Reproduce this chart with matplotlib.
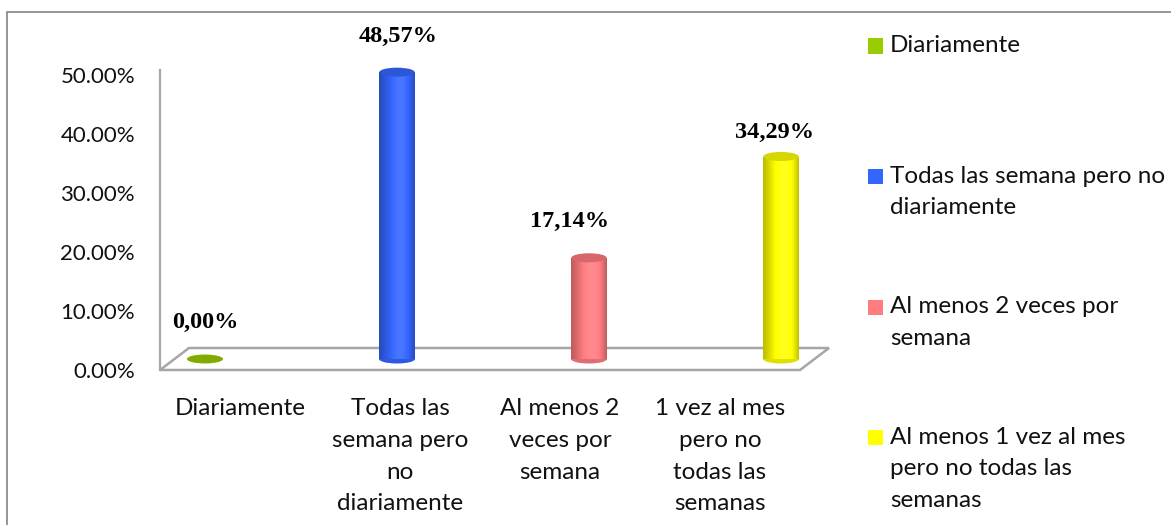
import matplotlib.pyplot as plt
import matplotlib.colors as mcolors
from matplotlib.patches import Ellipse, Polygon, Rectangle
import numpy as np

# Data
categories = ["Diariamente",
              "Todas las\nsemana pero\nno\ndiariamente",
              "Al menos 2\nveces por\nsemana",
              "1 vez al mes\npero no\ntodas las\nsemanas"]
legend_labels = ["Diariamente",
                 "Todas las semana pero no\ndiariamente",
                 "Al menos 2 veces por\nsemana",
                 "Al menos 1 vez al mes\npero no todas las\nsemanas"]
values = [0.00, 48.57, 17.14, 34.29]
colors = ["#99CC00", "#3366FF", "#FF7C80", "#FFFF00"]
yticks = [0, 10, 20, 30, 40, 50]

# data label nudges (pixels, relative to top of each cylinder)
label_offsets = [(0, 37), (1, 36), (-20, 36), (-6, 24)]

W, H = 1171, 525
FONT = "Lato"
GRAY = "#A6A6A6"
TXT = "#111111"

fig = plt.figure(figsize=(W / 100, H / 100), dpi=100)


def box(x0, y0, x1, y1):
    # pixel box (origin top-left) -> figure rect
    return [x0 / W, 1 - y1 / H, (x1 - x0) / W, (y1 - y0) / H]


def shade(color, k):
    rgb = np.array(mcolors.to_rgb(color))
    if k <= 1:
        return tuple(rgb * k)
    return tuple(rgb + (1 - rgb) * (k - 1))


# outer chart border
fig.patches.append(Rectangle((7 / W, -0.1), 1.2, 1 - 12 / H + 0.1,
                             transform=fig.transFigure, fill=False,
                             edgecolor="#8C8C8C", lw=1.3))

# -------------------------------
# back axis + floor
# -------------------------------
ytop = 50.8
ax = fig.add_axes(box(160, 70, 800, 370))
ax.set_xlim(-0.5, 3.5)
ax.set_ylim(0, ytop)
ax.patch.set_visible(False)
for s in ["top", "right", "bottom"]:
    ax.spines[s].set_visible(False)
ax.spines["left"].set_color(GRAY)
ax.spines["left"].set_linewidth(1.6)

ax.set_yticks(yticks)
ax.set_yticklabels([f"{t:.2f}%" for t in yticks], fontfamily=FONT, fontsize=16, color=TXT)
ax.set_xticks(range(len(categories)))
ax.set_xticklabels(categories, fontfamily=FONT, fontsize=17.5, color=TXT, linespacing=1.64, va="top")
ax.tick_params(axis="y", length=0, pad=18)
ax.tick_params(axis="x", length=0, pad=20)

px_x = 160.0                       # pixels per category on the floor
px_y = (370 - 70) / ytop           # pixels per percent
dx, dy = 29 / px_x, 22 / px_y
floor = Polygon([(-0.5, 0), (3.5, 0), (3.5 + dx, dy), (-0.5 + dx, dy)],
                closed=True, facecolor="white", edgecolor=GRAY, lw=1.8,
                clip_on=False, zorder=1)
ax.add_patch(floor)

# -------------------------------
# cylinders (own axes for the depth plane)
# -------------------------------
bar0, step, base = 205, 192.0, 359
ax3 = fig.add_axes(box(160, base - ytop * px_y, 830, base))
ax3.set_xlim((160 - bar0) / step, (830 - bar0) / step)
ax3.set_ylim(0, ytop)
ax3.axis("off")

x = np.arange(len(values))
w = 36 / step
eh = 9 / px_y
N = 36
for j in range(N):
    t = (j + 0.5) / N
    k = 0.74 + 0.36 * np.sin(np.pi * t ** 1.3)
    ax3.bar(x - w / 2 + (j + 0.5) * w / N, values, width=w / N * 1.05,
            color=[shade(c, k) for c in colors], linewidth=0, zorder=3, clip_on=False)

for xi, v, c, (ox, oy) in zip(x, values, colors, label_offsets):
    ax3.add_patch(Ellipse((xi, 0), w, eh, facecolor=shade(c, 0.88), lw=0,
                          zorder=2, clip_on=False))
    ax3.add_patch(Ellipse((xi, v), w * 0.98, eh * (0.8 if v == 0 else 1),
                          facecolor=shade(c, 0.84), lw=0, zorder=4, clip_on=False))
    ax3.annotate(f"{v:.2f}".replace(".", ",") + "%", (xi, v),
                 xytext=(ox * 0.72, oy * 0.72), textcoords="offset points",
                 ha="center", va="center", color="black",
                 fontfamily="Liberation Serif", fontweight="bold", fontsize=17.5,
                 annotation_clip=False)

# -------------------------------
# legend
# -------------------------------
for i, (lab, c) in enumerate(zip(legend_labels, colors)):
    yc = 46 + 130.5 * i
    fig.patches.append(Rectangle((868 / W, 1 - (yc + 7.5) / H), 15 / W, 15 / H,
                                 transform=fig.transFigure, facecolor=c, lw=0))
    fig.text(890 / W, 1 - (yc - 11) / H, lab, fontfamily=FONT, fontsize=17.5,
             color=TXT, va="top", ha="left", linespacing=1.64)

fig.savefig("out.png", dpi=100)
